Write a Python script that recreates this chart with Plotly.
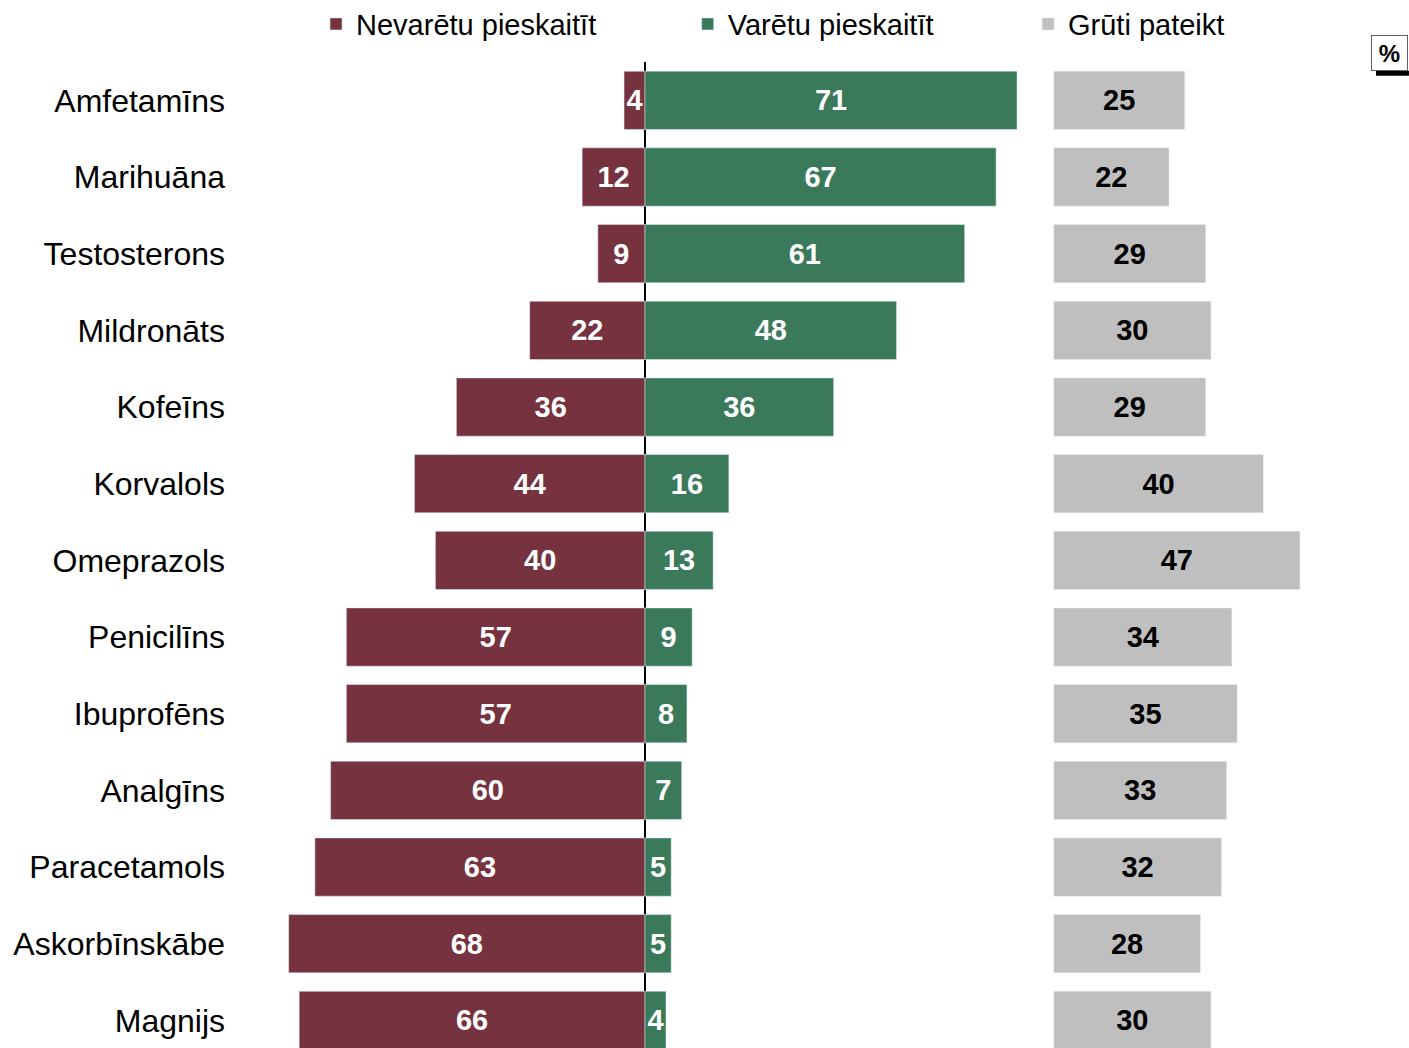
import plotly.graph_objects as go

categories = ["Amfetamīns", "Marihuāna", "Testosterons", "Mildronāts", "Kofeīns", "Korvalols",
              "Omeprazols", "Penicilīns", "Ibuprofēns", "Analgīns", "Paracetamols", "Askorbīnskābe", "Magnijs"]
cannot_count = [4, 12, 9, 22, 36, 44, 40, 57, 57, 60, 63, 68, 66]
could_count = [71, 67, 61, 48, 36, 16, 13, 9, 8, 7, 5, 5, 4]
hard_to_say = [25, 22, 29, 30, 29, 40, 47, 34, 35, 33, 32, 28, 30]

RED = "#76323f"
GREEN = "#3a7a5a"
GRAY = "#bfbfbf"
FONT = "Arial, Liberation Sans, sans-serif"
GRAY_BASE = 78  # gap column where the "hard to say" bars start

fig = go.Figure()
fig.add_trace(go.Bar(
    y=categories, x=[-v for v in cannot_count], text=cannot_count,
    orientation="h", name="Nevarētu pieskaitīt", marker_color=RED, width=0.76,
    textposition="inside", insidetextanchor="middle",
    textfont=dict(color="white", size=29, family=FONT, weight="bold"),
    legend="legend", showlegend=True,
))
fig.add_trace(go.Bar(
    y=categories, x=could_count, text=could_count,
    orientation="h", name="Varētu pieskaitīt", marker_color=GREEN, width=0.76,
    textposition="inside", insidetextanchor="middle",
    textfont=dict(color="white", size=29, family=FONT, weight="bold"),
    legend="legend2", showlegend=True,
))
fig.add_trace(go.Bar(
    y=categories, x=hard_to_say, base=GRAY_BASE, text=hard_to_say,
    orientation="h", name="Grūti pateikt", marker_color=GRAY, width=0.76,
    textposition="inside", insidetextanchor="middle",
    textfont=dict(color="black", size=29, family=FONT, weight="bold"),
    legend="legend3", showlegend=True,
))

legend_common = dict(orientation="h", yref="container", yanchor="middle", y=0.977, xanchor="left",
                     font=dict(size=29, family=FONT, color="black"),
                     bgcolor="rgba(0,0,0,0)", itemclick=False)

fig.update_layout(
    width=1409, height=1048,
    margin=dict(l=232, r=49, t=62, b=0, autoexpand=False),
    paper_bgcolor="white", plot_bgcolor="white",
    barmode="overlay", showlegend=True,
    uniformtext=dict(minsize=29, mode="show"),
    font=dict(family=FONT, color="black"),
    legend=dict(x=0.0745, **legend_common),
    legend2=dict(x=0.404, **legend_common),
    legend3=dict(x=0.7057, **legend_common),
    xaxis=dict(range=[-78.82, 136.45], showticklabels=False, showgrid=False,
               zeroline=True, zerolinecolor="black", zerolinewidth=1.5, fixedrange=True),
    yaxis=dict(type="category", categoryorder="array", categoryarray=categories,
               range=[12.36, -0.5], showgrid=False, zeroline=False,
               tickfont=dict(size=32, family=FONT, color="black"),
               ticks="", ticklen=0, ticklabelstandoff=6),
)

# "%" unit box in the upper right corner
fig.add_annotation(xref="paper", yref="paper", x=1.0425, y=1.0096, xanchor="right", yanchor="middle",
                   text="<b>%</b>", showarrow=False, font=dict(size=24, family=FONT, color="black"),
                   width=33, height=32, borderpad=1,
                   bordercolor="#606060", borderwidth=1, bgcolor="white")
fig.add_shape(type="rect", xref="paper", yref="paper", x0=1.0142, x1=1.0434, y0=0.9861, y1=0.9912,
              fillcolor="black", line_width=0)

fig.write_html("out.html", config={"displayModeBar": False},
               post_script="document.body.style.margin='0px';")
